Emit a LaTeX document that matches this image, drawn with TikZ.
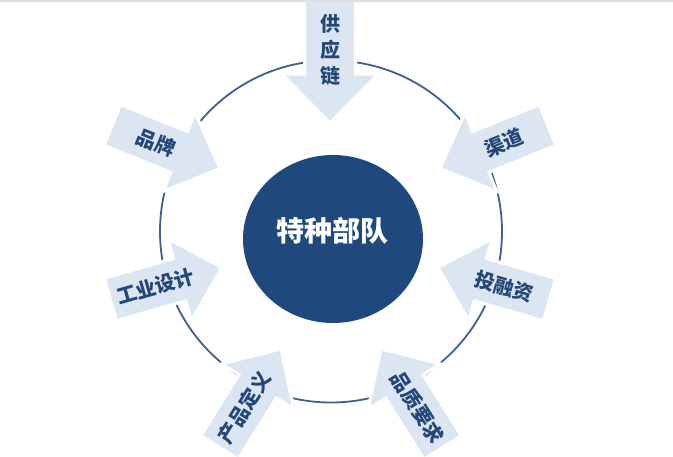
\documentclass[tikz,border=0pt]{standalone}
\usepackage{fontspec}
\newfontfamily\cjk{Noto Sans CJK SC}
\usetikzlibrary{shapes.geometric}
\definecolor{arrowblue}{HTML}{DCE6F2}
\definecolor{coreblue}{HTML}{1F497D}
\definecolor{ringblue}{HTML}{3F5F8C}
\definecolor{lblblue}{HTML}{234878}
\begin{document}
\begin{tikzpicture}[x=1pt,y=-1pt,
	arrowbox/.style={fill=arrowblue,draw=white,line width=3pt,line join=miter},
	ringline/.style={draw=ringblue,line width=1.8pt},
	coredisc/.style={ellipse,fill=coreblue,minimum width=180pt,minimum height=168pt,inner sep=0pt},
	coretext/.style={text=white,font=\cjk\bfseries\fontsize{28}{32}\selectfont},
	lbltext/.style={text=lblblue,font=\cjk\bfseries\fontsize{20}{26}\selectfont,inner sep=0pt}]
	\useasboundingbox (0,0) rectangle (673,456);
	\draw[ringline] (331,231.5) circle (171pt);
	\node[coredisc] (core) at (333,239) {};
	\node[coretext] (coretitle) at (332,231) {特种部队};
	\draw[arrowbox] (330,123) -- (378,74) -- (355.5,74) -- (355.5,0) -- (304.5,0) -- (304.5,74) -- (282,74) -- cycle;
	\node[lbltext,align=center] (supply) at (330,50) {供\\应\\链};
	\foreach \tx/\ty/\ang/\txtang/\lbl [count=\i] in {220/168.5/338/-22/品牌, 440/168.5/202/22/渠道, 438/267.5/164/-16/投融资, 222/267.5/16/16/工业设计, 281/349/58/58/产品定义, 381/349/122/-58/品质要求} {
		\begin{scope}[shift={(\tx,\ty)},rotate=\ang]
			\draw[arrowbox] (0,0) -- (-44,42.5) -- (-44,22) -- (-116,22) -- (-116,-22) -- (-44,-22) -- (-44,-42.5) -- cycle;
			\node[lbltext,rotate=\txtang] (lbl\i) at (-69,0) {\lbl};
		\end{scope}
	}
	\fill[gray!25] (0,0) rectangle (673,1.5);
\end{tikzpicture}
\end{document}
